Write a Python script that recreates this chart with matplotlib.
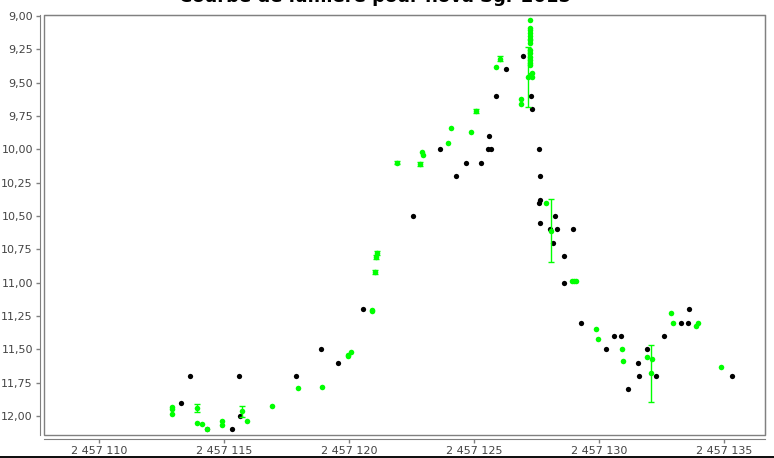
import matplotlib
matplotlib.use("Agg")
import matplotlib.pyplot as plt
from matplotlib import ticker
from matplotlib.patches import Rectangle
import numpy as np

JD0 = 2457000

# black points (JD - 2457000, magnitude)
black_jd = [113.28, 113.63, 114.32, 115.32, 115.59, 115.63, 117.87, 118.87, 119.56, 120.56,
            122.56, 123.64, 124.28, 124.68, 125.28, 125.55, 125.58, 125.68, 125.88, 126.28,
            126.96, 127.28, 127.32, 127.60, 127.64, 127.64, 127.60, 127.64, 128.04, 128.16,
            128.24, 128.30, 128.60, 128.60, 128.96, 129.26, 130.28, 130.60, 130.88, 131.16,
            131.56, 131.60, 131.92, 132.28, 132.60, 133.28, 133.56, 133.60, 135.32]
black_mag = [11.905, 11.70, 12.10, 12.10, 11.70, 12.00, 11.70, 11.50, 11.605, 11.20,
             10.50, 10.00, 10.20, 10.10, 10.10, 10.00, 9.90, 10.00, 9.60, 9.40,
             9.30, 9.60, 9.70, 10.00, 10.20, 10.38, 10.405, 10.555, 10.60, 10.705,
             10.50, 10.60, 10.80, 11.005, 10.60, 11.305, 11.50, 11.40, 11.40, 11.80,
             11.605, 11.70, 11.50, 11.70, 11.40, 11.305, 11.305, 11.20, 11.70]

# green points (JD - 2457000, magnitude, error)
green_jd = [112.92, 112.92, 112.92, 113.92, 113.92, 114.12, 114.30, 114.92, 114.92, 115.72,
            115.92, 116.92, 117.94, 118.92, 119.94, 119.94, 120.08, 120.92, 120.92, 121.04,
            121.08, 121.10, 121.92, 122.84, 122.92, 122.96, 123.96, 124.08, 124.88, 125.08,
            125.87, 126.04, 126.88, 126.88, 127.16,
            127.24, 127.24, 127.24, 127.24, 127.24, 127.24, 127.24, 127.24, 127.24, 127.24,
            127.24, 127.24, 127.24, 127.24, 127.24, 127.30, 127.30,
            127.88, 128.08, 128.90, 129.00, 129.08, 129.88, 129.96, 130.92, 130.96, 131.92,
            132.08, 132.12, 132.88, 132.96, 133.88, 133.96, 134.88]
green_mag = [11.93, 11.95, 11.985, 11.94, 12.05, 12.06, 12.10, 12.04, 12.065, 11.965,
             12.035, 11.925, 11.79, 11.78, 11.54, 11.55, 11.52, 11.205, 11.215, 10.92,
             10.805, 10.775, 10.10, 10.11, 10.02, 10.045, 9.95, 9.84, 9.87, 9.71,
             9.38, 9.32, 9.62, 9.66, 9.46,
             9.03, 9.09, 9.105, 9.13, 9.15, 9.17, 9.18, 9.20, 9.255, 9.28,
             9.305, 9.33, 9.355, 9.37, 9.44, 9.425, 9.46,
             10.405, 10.61, 10.99, 10.985, 10.99, 11.35, 11.425, 11.50, 11.59, 11.555,
             11.68, 11.575, 11.225, 11.30, 11.325, 11.30, 11.635]
green_err = [0, 0, 0, 0.03, 0, 0, 0, 0, 0, 0.04,
             0, 0, 0, 0, 0, 0, 0, 0, 0, 0.015,
             0.015, 0.015, 0.01, 0.015, 0, 0, 0, 0, 0, 0.015,
             0, 0.02, 0, 0, 0.224,
             0, 0, 0, 0, 0, 0, 0, 0, 0, 0,
             0, 0, 0, 0, 0, 0, 0,
             0, 0.236, 0, 0, 0, 0, 0, 0, 0, 0,
             0.214, 0, 0, 0, 0, 0, 0]

bx = np.array(black_jd) + JD0
gx = np.array(green_jd) + JD0
gy = np.array(green_mag)
ge = np.array(green_err)

fig = plt.figure(figsize=(7.74, 4.58), dpi=100)
ax = fig.add_axes([44/774, 1-435/458, (765-44)/774, (435-15)/458])

ax.plot(bx, black_mag, 'o', color='black', ms=3.8, mec='none', zorder=3)
m = ge > 0
ax.errorbar(gx[m], gy[m], yerr=ge[m], fmt='none', ecolor='#00ff00', elinewidth=1,
            capsize=2.5, capthick=1, zorder=4)
ax.plot(gx, gy, 'o', color='#00ff00', ms=4.0, mec='none', zorder=5)

ax.set_xlim(JD0 + 107.79, JD0 + 136.63)
ax.set_ylim(12.1425, 8.9925)

ax.xaxis.set_major_locator(ticker.MultipleLocator(5))
ax.yaxis.set_major_locator(ticker.MultipleLocator(0.25))
ax.xaxis.set_major_formatter(ticker.FuncFormatter(lambda v, p: f"{v:,.0f}".replace(",", " ")))
ax.yaxis.set_major_formatter(ticker.FuncFormatter(lambda v, p: f"{v:.2f}".replace(".", ",")))

gray = '#808080'
for s in ['top', 'right']:
    ax.spines[s].set_color(gray)
for s in ['left', 'bottom']:
    ax.spines[s].set_color(gray)
    ax.spines[s].set_position(('outward', 3))
ax.add_patch(Rectangle((0, 0), 1, 1, transform=ax.transAxes, fill=False,
                       edgecolor=gray, lw=1, clip_on=False, zorder=6))
ax.tick_params(colors=gray, labelcolor='#444444', labelsize=8, length=3, width=1, pad=2)

# title sits partly above the image edge, as in the original
fig.text(375/774, 1 - 2.0/458, "Courbe de lumière pour nova Sgr 2015", ha='center',
         va='baseline', fontsize=13, fontweight='bold')
fig.add_artist(Rectangle((0, 0), 1, 2.5/458, transform=fig.transFigure,
                         color='#111111', lw=0))

fig.savefig("out.png", dpi=100)
